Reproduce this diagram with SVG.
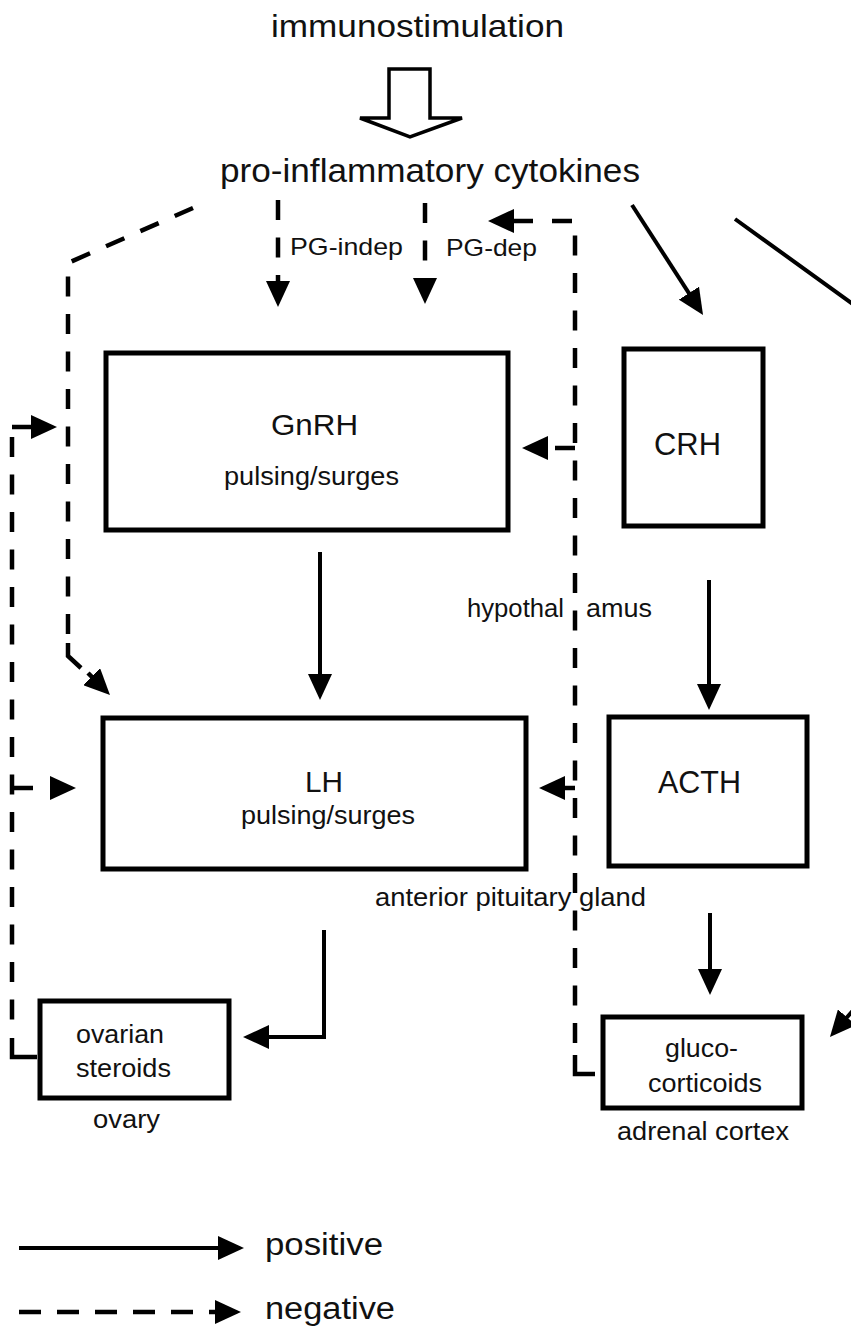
<svg xmlns="http://www.w3.org/2000/svg" width="851" height="1331" viewBox="0 0 851 1331">
<defs>
<style>
text{font-family:"Liberation Sans",Arial,sans-serif;fill:#111}
.box{fill:#fff;stroke:#000;stroke-width:5}
.pos{fill:none;stroke:#000;stroke-width:4}
.neg{fill:none;stroke:#000;stroke-width:4.5;stroke-dasharray:20 17.5}
.sol{fill:none;stroke:#000;stroke-width:4.5}
</style>
<marker id="ah" markerUnits="userSpaceOnUse" viewBox="0 0 26 24" refX="16" refY="12" markerWidth="26" markerHeight="24" orient="auto">
<path d="M0,0 L26,12 L0,24 Z" fill="#000"/>
</marker>
</defs>
<rect width="851" height="1331" fill="#fff"/>

<g id="immunostimulation">
<text x="271" y="37" font-size="32" textLength="293" lengthAdjust="spacingAndGlyphs">immunostimulation</text>
</g>
<g id="cytokines">
<text x="220" y="182" font-size="33" textLength="420" lengthAdjust="spacingAndGlyphs">pro-inflammatory cytokines</text>
</g>

<g id="GnRH">
<rect class="box" x="106" y="353" width="402" height="177"/>
<text x="271" y="435" font-size="30" textLength="87" lengthAdjust="spacingAndGlyphs">GnRH</text>
<text x="224" y="485" font-size="26" textLength="175" lengthAdjust="spacingAndGlyphs">pulsing/surges</text>
</g>
<g id="CRH">
<rect class="box" x="624" y="349" width="139" height="177"/>
<text x="654" y="455" font-size="31" textLength="67" lengthAdjust="spacingAndGlyphs">CRH</text>
</g>
<g id="hypothalamus">
<text y="617" font-size="26"><tspan x="467" textLength="97" lengthAdjust="spacingAndGlyphs">hypothal</tspan><tspan x="586" textLength="66" lengthAdjust="spacingAndGlyphs">amus</tspan></text>
</g>
<g id="LH">
<rect class="box" x="103" y="718" width="423" height="151"/>
<text x="305" y="792" font-size="30" textLength="38" lengthAdjust="spacingAndGlyphs">LH</text>
<text x="241" y="824" font-size="26" textLength="174" lengthAdjust="spacingAndGlyphs">pulsing/surges</text>
</g>
<g id="ACTH">
<rect class="box" x="609" y="717" width="198" height="149"/>
<text x="658" y="793" font-size="31" textLength="83" lengthAdjust="spacingAndGlyphs">ACTH</text>
</g>
<g id="pituitary">
<text x="375" y="906" font-size="26" textLength="271" lengthAdjust="spacingAndGlyphs">anterior pituitary gland</text>
</g>
<g id="ovarian-steroids">
<rect class="box" x="40" y="1001" width="189" height="97"/>
<text x="76" y="1043" font-size="26" textLength="88" lengthAdjust="spacingAndGlyphs">ovarian</text>
<text x="76" y="1077" font-size="26" textLength="95" lengthAdjust="spacingAndGlyphs">steroids</text>
<text x="93" y="1128" font-size="26" textLength="67" lengthAdjust="spacingAndGlyphs">ovary</text>
</g>
<g id="glucocorticoids">
<rect class="box" x="603" y="1017" width="199" height="91"/>
<text x="665" y="1057" font-size="26" textLength="73" lengthAdjust="spacingAndGlyphs">gluco-</text>
<text x="648" y="1092" font-size="26" textLength="114" lengthAdjust="spacingAndGlyphs">corticoids</text>
<text x="617" y="1140" font-size="26" textLength="172" lengthAdjust="spacingAndGlyphs">adrenal cortex</text>
</g>

<g id="connectors">
<polygon points="389,69 430,69 430,118 462,118 410,137 360,118 389,118" fill="#fff" stroke="#000" stroke-width="3.5" stroke-linejoin="miter"/>
<!-- positive -->
<path class="pos" d="M632,205 L697.6,306.6" marker-end="url(#ah)"/>
<path class="pos" d="M735,219 L875,320 L875,985 L836.5,1029.4" marker-end="url(#ah)"/>
<path class="pos" d="M320,552 L320,690" marker-end="url(#ah)"/>
<path class="pos" d="M709,580 L709,700" marker-end="url(#ah)"/>
<path class="pos" d="M324,930 L324,1037 L253,1037" marker-end="url(#ah)"/>
<path class="pos" d="M710,913 L710,985" marker-end="url(#ah)"/>
<!-- negative -->
<path class="neg" d="M278,200 L278,297" marker-end="url(#ah)"/>
<path class="neg" d="M425,203 L425,294" marker-end="url(#ah)"/>
<path class="neg" d="M193,208 L68,263 L68,640"/>
<path class="sol" d="M68,643 L68,656 L81,668"/>
<path class="sol" d="M88,673 L102.9,687.9" marker-end="url(#ah)"/>
<path class="sol" d="M533,221 L498,221" marker-end="url(#ah)"/>
<path class="neg" d="M552,221 L575,221 L575,1052"/>
<path class="sol" d="M575,1055 L575,1074 L595,1074"/>
<path class="neg" d="M575,448 L532,448" style="stroke-dasharray:20 17" marker-end="url(#ah)"/>
<path class="neg" d="M575,788 L549,788" style="stroke-dasharray:20 17" marker-end="url(#ah)"/>
<path class="neg" d="M12,437 L12,1035"/>
<path class="sol" d="M12,1038 L12,1057 L37,1057"/>
<path class="sol" d="M12,427 L47,427" marker-end="url(#ah)"/>
<path class="neg" d="M12,788 L66,788" style="stroke-dasharray:21 17" marker-end="url(#ah)"/>
</g>
<g id="edge-labels">
<text x="290" y="255" font-size="24" textLength="113" lengthAdjust="spacingAndGlyphs">PG-indep</text>
<text x="446" y="256" font-size="24" textLength="91" lengthAdjust="spacingAndGlyphs">PG-dep</text>
</g>

<g id="legend">
<path class="pos" d="M19,1248 L234,1248" marker-end="url(#ah)"/>
<text x="265" y="1255" font-size="31" textLength="118" lengthAdjust="spacingAndGlyphs">positive</text>
<path class="neg" d="M19,1312 L231,1312" style="stroke-dasharray:22 16" marker-end="url(#ah)"/>
<text x="265" y="1319" font-size="31" textLength="130" lengthAdjust="spacingAndGlyphs">negative</text>
</g>
</svg>
